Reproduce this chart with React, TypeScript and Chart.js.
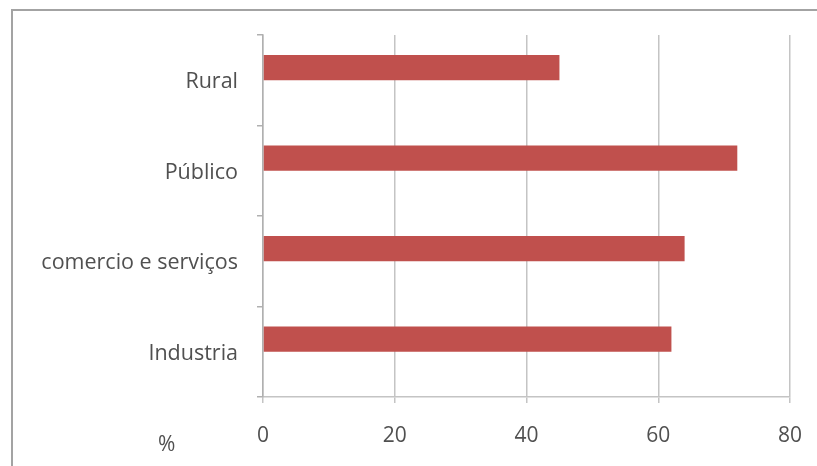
import React, { useEffect, useRef } from "react";
import { Chart, registerables } from "chart.js";

Chart.register(...registerables);

const categories = ["Rural", "Público", "comercio e serviços", "Industria"];
const seriesValues = [45, 72, 64, 62];
const emptySeries = [null, null, null, null];
const xTicks = [0, 20, 40, 60, 80];

const FONT = "'Open Sans'";
const TEXT = "#505050";

export default function App() {
  const ref = useRef<HTMLCanvasElement | null>(null);

  useEffect(() => {
    document.body.style.margin = "0";
    const ctx = ref.current!;
    const chart = new Chart(ctx, {
      type: "bar",
      data: {
        labels: categories,
        datasets: [
          {
            label: "%",
            data: seriesValues,
            backgroundColor: "#C0504D",
            borderWidth: 0,
            categoryPercentage: 0.556,
            barPercentage: 1,
          },
          {
            label: "",
            data: emptySeries as any,
            backgroundColor: "#4F81BD",
            categoryPercentage: 0.556,
            barPercentage: 1,
          },
        ],
      },
      options: {
        indexAxis: "y",
        animation: false,
        responsive: false,
        maintainAspectRatio: false,
        layout: { padding: { top: 35, right: 27, left: 0, bottom: 0 } },
        plugins: {
          legend: { display: false },
          tooltip: { enabled: false },
        },
        scales: {
          x: {
            min: xTicks[0],
            max: xTicks[xTicks.length - 1],
            afterBuildTicks: (scale: any) => {
              scale.ticks = xTicks.map((v) => ({ value: v }));
            },
            afterFit: (scale: any) => {
              scale.height = 69;
              scale.paddingLeft = 0;
              scale.paddingRight = 0;
            },
            ticks: {
              color: TEXT,
              font: { family: FONT, size: 21 },
              padding: 20,
            },
            grid: {
              color: "#c4c4c4",
              lineWidth: 1.5,
              tickLength: 6,
            },
            border: { color: "#c4c4c4", width: 1.5 },
          },
          y: {
            afterFit: (scale: any) => {
              scale.width = 263;
              scale.paddingTop = 0;
              scale.paddingBottom = 0;
            },
            ticks: {
              color: TEXT,
              font: { family: FONT, size: 21.5 },
              padding: 19,
              labelOffset: 2,
            },
            grid: {
              drawOnChartArea: false,
              color: "#b0b0b0",
              lineWidth: 1.5,
              tickLength: 6,
            },
            border: { color: "#b0b0b0", width: 1.5 },
          },
        },
      },
    });
    return () => chart.destroy();
  }, []);

  return (
    <div style={{ position: "relative", width: 817, height: 466, background: "#fff", overflow: "hidden" }}>
      <div
        style={{
          position: "absolute",
          left: 11,
          top: 9,
          width: 820,
          height: 470,
          borderTop: "2px solid #a3a3a3",
          borderLeft: "2px solid #a3a3a3",
        }}
      />
      <canvas ref={ref} width={817} height={466} style={{ position: "absolute", left: 0, top: 0 }} />
      <div
        style={{
          position: "absolute",
          left: 158,
          top: 431,
          fontFamily: FONT,
          fontSize: 21,
          lineHeight: "24px",
          color: TEXT,
        }}
      >
        %
      </div>
    </div>
  );
}
